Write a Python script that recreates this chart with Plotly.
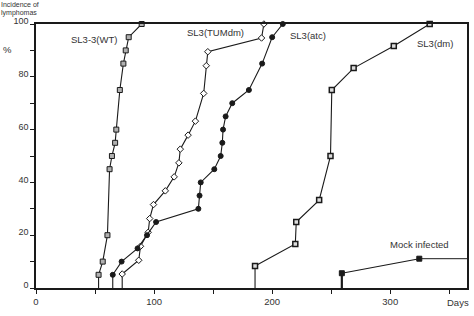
import plotly.graph_objects as go

# ---- data (days, % incidence) ----
wt_days = [53, 56.5, 60.5, 62.3, 64.3, 67, 68, 71, 74, 76, 78.5, 89.5]
wt_pct = [5, 10, 20, 45, 50, 55, 60, 75, 85, 90, 95, 100]

tum_days = [73, 87, 88.5, 95, 96.3, 99.5, 109.5, 117, 121, 122.2, 128.8, 135, 142, 144.2, 145.5, 191, 193]
tum_pct = [5.3, 10.5, 15.8, 21.1, 26.3, 31.6, 36.8, 42.1, 47.4, 52.6, 57.9, 63.2, 73.7, 84.2, 89.5, 94.7, 100]

atc_days = [65, 72.5, 86, 94, 101.7, 137.5, 138.5, 139.5, 151, 156.4, 157.8, 158.4, 160.6, 166.2, 180.3, 191.5, 200, 209]
atc_pct = [5, 10, 15, 20, 25, 30, 35, 40, 45, 50, 55, 60, 65, 70, 75, 85, 95, 100]

dm_days = [185.5, 219.6, 220.4, 239.8, 249.4, 250.5, 269, 303, 333.4]
dm_pct = [8.3, 16.7, 25, 33.3, 50, 75, 83.3, 91.7, 100]

mock_days = [259, 324.6]
mock_pct = [5.6, 11.1]

X_MAX = 365
x_ticks = [0, 100, 200, 300]
y_ticks = [0, 20, 40, 60, 80, 100]

INK = "#1a1a1a"
FONT = "Liberation Sans, Arial, sans-serif"

fig = go.Figure()


def add_series(days, pct, symbol, fill, lw_marker, size=5, drop_width=1.1, extend_to=None):
    # drop line from axis to first point
    fig.add_trace(go.Scatter(x=[days[0], days[0]], y=[0, pct[0]], mode="lines",
                             line=dict(color=INK, width=drop_width), hoverinfo="skip",
                             showlegend=False))
    if extend_to is not None:
        fig.add_trace(go.Scatter(x=[days[-1], extend_to], y=[pct[-1], pct[-1]], mode="lines",
                                 line=dict(color=INK, width=1), showlegend=False,
                                 hoverinfo="skip", cliponaxis=False))
    fig.add_trace(go.Scatter(x=days, y=pct, mode="lines+markers",
                             line=dict(color=INK, width=1.1),
                             marker=dict(symbol=symbol, size=size, color=fill,
                                         line=dict(color=INK, width=lw_marker)),
                             showlegend=False, cliponaxis=False))


add_series(wt_days, wt_pct, "square", "#b0b0b0", 1)
add_series(tum_days, tum_pct, "diamond", "white", 1)
add_series(atc_days, atc_pct, "circle", INK, 1, size=5)
add_series(dm_days, dm_pct, "square", "#dddddd", 1.5)
add_series(mock_days, mock_pct, "square", INK, 1, drop_width=2.2, extend_to=X_MAX)

labels = [
    ("SL3-3(WT)", 94, 40),
    ("SL3(TUMdm)", 216, 33),
    ("SL3(atc)", 309.5, 36),
    ("SL3(dm)", 437, 43),
    ("Mock infected", 421, 244),
]
W, H = 474, 316
L, R, T, B = 36, 5, 24, 28
pw, ph = W - L - R, H - T - B


def px_to_paper(px, py):
    return (px - L) / pw, (H - B - py) / ph


for txt, px, py in labels:
    x, y = px_to_paper(px, py)
    fig.add_annotation(text=txt, x=x, y=y, xref="paper", yref="paper", showarrow=False,
                       xanchor="center", yanchor="middle",
                       font=dict(family=FONT, size=9.5, color="#333"))

# two-line axis title at top-left
for txt, py in [("Incidence of", 0), ("lymphomas", 8)]:
    x, y = px_to_paper(0, py)
    fig.add_annotation(text=txt, x=x, y=y, xref="paper", yref="paper",
                       showarrow=False, xanchor="left", yanchor="top", borderpad=0,
                       font=dict(family=FONT, size=7, color="#333"))

for txt, px, py, anc in [("%", 7, 49, "center"), ("Days", 460, 302, "center")]:
    x, y = px_to_paper(px, py)
    fig.add_annotation(text=txt, x=x, y=y, xref="paper", yref="paper", showarrow=False,
                       xanchor=anc, yanchor="middle",
                       font=dict(family=FONT, size=9.5, color="#333"))

fig.update_xaxes(range=[0, X_MAX], tickvals=x_ticks, ticktext=[str(v) for v in x_ticks],
                 ticks="outside", ticklen=4, tickcolor=INK, tickwidth=1,
                 minor=dict(tickvals=[50, 150, 250, 350], ticks="outside", ticklen=4,
                            tickcolor=INK, tickwidth=1),
                 showline=True, linecolor=INK, linewidth=1.5, mirror=True,
                 showgrid=False, zeroline=False,
                 tickfont=dict(family=FONT, size=9.5, color="#333"))
fig.update_yaxes(range=[0, 100], tickvals=y_ticks, ticktext=[str(v) for v in y_ticks],
                 ticks="outside", ticklen=4, tickcolor=INK, tickwidth=1,
                 ticklabelshift=-3,
                 minor=dict(tickvals=[10, 30, 50, 70, 90], ticks="outside", ticklen=4,
                            tickcolor=INK, tickwidth=1),
                 showline=True, linecolor=INK, linewidth=1.5, mirror=True,
                 showgrid=False, zeroline=False,
                 tickfont=dict(family=FONT, size=9, color="#333"))

fig.update_layout(width=W, height=H, margin=dict(l=L, r=R, t=T, b=B),
                  plot_bgcolor="white", paper_bgcolor="white")

fig.write_html("out.html", config={"displayModeBar": False})
